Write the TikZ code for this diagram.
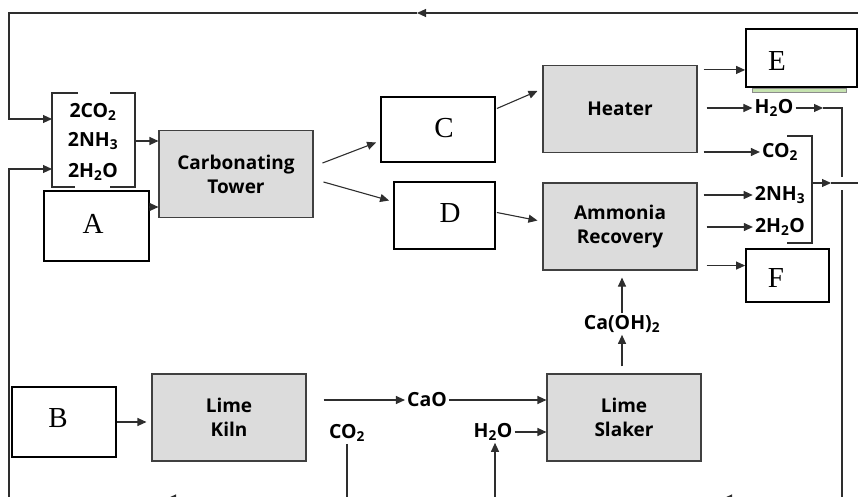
\documentclass[tikz,border=0pt]{standalone}
\usepackage{fontspec}
\setmainfont{Liberation Serif}
\setsansfont{Open Sans}
\usepackage{tikz}
\usetikzlibrary{arrows.meta, positioning, calc}
\definecolor{UnitGray}{HTML}{DCDCDC}
\definecolor{EdgeGray}{HTML}{404040}
\definecolor{LineGray}{HTML}{2E2E2E}
\definecolor{BarGreen}{HTML}{C6E3B0}

\begin{document}
\begin{tikzpicture}[x=1pt, y=-1pt,
  unit/.style={rectangle, draw=EdgeGray, fill=UnitGray, line width=1.1pt,
    minimum width=154pt, minimum height=87pt, align=center,
    font=\sffamily\bfseries\fontsize{19}{24}\selectfont},
  letterbox/.style={rectangle, draw=black, line width=1.8pt, fill=white},
  letter/.style={font=\rmfamily\fontsize{29}{29}\selectfont, inner sep=0pt},
  chem/.style={font=\sffamily\bfseries\fontsize{19.5}{22}\selectfont, inner sep=2pt},
  flow/.style={draw=LineGray, line width=1.1pt, -{Triangle[length=9pt,width=8pt]}},
  pipe/.style={draw=LineGray, line width=1.1pt}
]
\clip (0,0) rectangle (858,497);

% Process units
\node[unit] (tower)   at (236,174)   {Carbonating\\Tower};
\node[unit] (heater)  at (620,109)   {Heater};
\node[unit] (ammonia) at (620,226.5) {Ammonia\\Recovery};
\node[unit] (kiln)    at (229,417.5) {Lime\\Kiln};
\node[unit] (slaker)  at (624,417.5) {Lime\\Slaker};

% Unknown streams
\node[letterbox, minimum width=105pt, minimum height=70pt] (boxA) at (96.5,226) {};
\node[letterbox, minimum width=104pt, minimum height=70pt] (boxB) at (64,422) {};
\node[letterbox, minimum width=114pt, minimum height=65pt] (boxC) at (438,129.5) {};
\node[letterbox, minimum width=101pt, minimum height=67pt] (boxD) at (444.5,215.5) {};
\node[letterbox, minimum width=111pt, minimum height=58pt] (boxE) at (801.5,58) {};
\draw[draw=black!45, fill=BarGreen, line width=0.6pt]
  ([shift={(7pt,-0.9pt)}]boxE.south west) rectangle ([shift={(-12pt,-4pt)}]boxE.south east);
\node[letterbox, minimum width=83pt, minimum height=53pt] (boxF) at (787.5,275.5) {};
\node[letter] (lblA) at (93,224)  {A};
\node[letter] (lblB) at (58,418)  {B};
\node[letter] (lblC) at (444,128) {C};
\node[letter] (lblD) at (450,213) {D};
\node[letter] (lblE) at (777,61)  {E};
\node[letter] (lblF) at (776,278) {F};

% Feed to the tower
\node[chem] (co2F) at (93,112) {2CO\textsubscript{2}};
\node[chem] (nh3F) at (93,141) {2NH\textsubscript{3}};
\node[chem] (h2oF) at (93,172) {2H\textsubscript{2}O};
\draw[pipe] (78,93) -| (52,187) -- (75,187);
\draw[pipe] (110,93) -| (135,187) -- (110,187);

% Products
\node[chem] (h2oH) at (774,108)  {H\textsubscript{2}O};
\node[chem] (co2H) at (780,152)  {CO\textsubscript{2}};
\node[chem] (nh3R) at (780,195)  {2NH\textsubscript{3}};
\node[chem] (h2oR) at (780,227)  {2H\textsubscript{2}O};
\node[chem] (cao)  at (427,400)  {CaO};
\node[chem] (co2K) at (347,433)  {CO\textsubscript{2}};
\node[chem] (h2oS) at (493,432)  {H\textsubscript{2}O};
\node[chem] (caoh) at (622,324)  {Ca(OH)\textsubscript{2}};
\draw[pipe] (787,136) -| (812,243) -- (787,243);

% Recycle points
\coordinate (feedIn1) at (52,119);
\coordinate (feedIn2) at (52,169);
\coordinate (feedOut) at (135,141);
\coordinate (aOut)    at (149,207);
\coordinate (topR)    at (858,13);
\coordinate (topMid)  at (417,13);
\coordinate (topL)    at (9,13);
\coordinate (botL)    at (9,497);
\coordinate (h2oMid)  at (823,108);
\coordinate (rTop)    at (842,108);
\coordinate (rGapT)   at (842,177);
\coordinate (rGapB)   at (842,190);
\coordinate (rBot)    at (842,497);
\coordinate (brR)     at (812,183);
\coordinate (mergeMid) at (831,183);
\coordinate (mergeR)  at (858,183);
\coordinate (co2Out)  at (347,497);
\coordinate (h2oIn)   at (495,497);
\coordinate (bR)      at (842,498.5);
\coordinate (b2)      at (723,498.5);
\coordinate (b1)      at (167,498.5);
\coordinate (bL)      at (9,498.5);

% Tower section
\draw[flow] (topR) -- (topMid);
\draw[flow] (topMid) -- (topL) |- (feedIn1);
\draw[flow] (botL) |- (feedIn2);
\draw[flow] (feedOut) -- (feedOut -| tower.west);
\draw[flow] (aOut) -- (aOut -| tower.west);
\draw[flow] ([shift={(9pt,11pt)}]tower.east) -- ([shift={(-4pt,-13pt)}]boxC.west);
\draw[flow] ([shift={(10pt,-8pt)}]tower.east) -- ([shift={(-4pt,15pt)}]boxD.west);
\draw[flow] ([shift={(1pt,21pt)}]boxC.east) -- ([shift={(-5pt,18pt)}]heater.west);
\draw[flow] ([shift={(1pt,3pt)}]boxD.east) -- ([shift={(-5pt,6pt)}]ammonia.west);

% Heater and ammonia recovery outputs
\draw[flow, shorten <=6pt] ([yshift=-5pt]heater.north east) -- ([yshift=-5pt]heater.north east -| boxE.west);
\draw[flow, shorten <=9pt] (h2oH.west -| heater.east) -- (h2oH.west);
\draw[flow, shorten <=6pt] (co2H.west -| heater.east) -- (co2H.west);
\draw[flow, shorten <=6pt] (nh3R.west -| ammonia.east) -- (nh3R.west);
\draw[flow, shorten <=9pt] (h2oR.west -| ammonia.east) -- (h2oR.west);
\draw[flow, shorten <=9pt] ([yshift=5pt]ammonia.south east) -- ([yshift=5pt]ammonia.south east -| boxF.west);
\draw[flow] (h2oH.east) -- (h2oMid);
\draw[pipe] (h2oMid) -- (rTop) -- (rGapT);
\draw[pipe] (rGapB) -- (rBot);
\draw[flow] (brR) -- (mergeMid);
\draw[pipe] (mergeMid) -- (mergeR);

% Lime section
\draw[flow, shorten >=5pt] (boxB.east) -- (boxB.east -| kiln.west);
\draw[flow, shorten <=17pt] (kiln.east |- cao.west) -- (cao.west);
\draw[flow] (cao.east) -- (cao.east -| slaker.west);
\draw[flow] (h2oS.east) -- (h2oS.east -| slaker.west);
\draw[flow] (h2oIn) -- (h2oIn |- h2oS.south);
\draw[pipe] (co2K.south) -- (co2Out);
\draw[flow, shorten <=7pt] (caoh.south |- slaker.north) -- (caoh.south);
\draw[flow, shorten >=7pt] (caoh.north) -- (caoh.north |- ammonia.south);

% Bottom return
\draw[flow] (bR) -- (b2);
\draw[flow] (b2) -- (b1);
\draw[pipe] (b1) -- (bL);

\end{tikzpicture}
\end{document}
